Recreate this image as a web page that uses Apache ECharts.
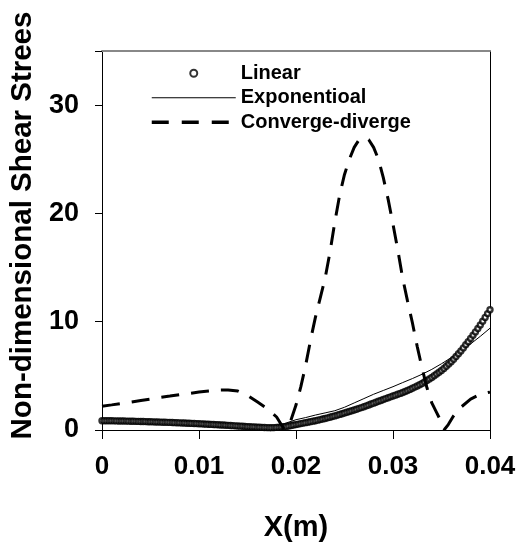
<!DOCTYPE html>
<html><head><meta charset="utf-8">
<script src="https://cdn.jsdelivr.net/npm/echarts@6/dist/echarts.min.js"></script>
<style>html,body{margin:0;padding:0;background:#fff}#c{width:519px;height:552px}</style>
</head><body><div id="c"></div><script>
// ---- data ----
const linearX = [
0,0.00025,0.0005,0.00075,0.001,0.00125,0.0015,0.00175,0.002,0.00225,0.0025,0.00275,
0.003,0.00325,0.0035,0.00375,0.004,0.00425,0.0045,0.00475,0.005,0.00525,0.0055,0.00575,
0.006,0.00625,0.0065,0.00675,0.007,0.00725,0.0075,0.00775,0.008,0.00825,0.0085,0.00875,
0.009,0.00925,0.0095,0.00975,0.01,0.01025,0.0105,0.01075,0.011,0.01125,0.0115,0.01175,
0.012,0.01225,0.0125,0.01275,0.013,0.01325,0.0135,0.01375,0.014,0.01425,0.0145,0.01475,
0.015,0.01525,0.0155,0.01575,0.016,0.01625,0.0165,0.01675,0.017,0.01725,0.0175,0.01775,
0.018,0.01825,0.0185,0.01875,0.019,0.01925,0.0195,0.01975,0.02,0.02025,0.0205,0.02075,
0.021,0.02125,0.0215,0.02175,0.022,0.02225,0.0225,0.02275,0.023,0.02325,0.0235,0.02375,
0.024,0.02425,0.0245,0.02475,0.025,0.02525,0.0255,0.02575,0.026,0.02625,0.0265,0.02675,
0.027,0.02725,0.0275,0.02775,0.028,0.02825,0.0285,0.02875,0.029,0.02925,0.0295,0.02975,
0.03,0.03025,0.0305,0.03075,0.031,0.03125,0.0315,0.03175,0.032,0.03225,0.0325,0.03275,
0.033,0.03325,0.0335,0.03375,0.034,0.03425,0.0345,0.03475,0.035,0.03525,0.0355,0.03575,
0.036,0.03625,0.0365,0.03675,0.037,0.03725,0.0375,0.03775,0.038,0.03825,0.0385,0.03875,
0.039,0.03925,0.0395,0.03975,0.04];
const linearY = [
0.86,0.86,0.855,0.85,0.85,0.845,0.84,0.835,0.83,0.825,0.82,0.815,
0.81,0.805,0.80,0.795,0.79,0.783,0.776,0.768,0.76,0.753,0.745,0.738,
0.73,0.722,0.715,0.708,0.70,0.69,0.68,0.67,0.66,0.65,0.64,0.63,
0.62,0.61,0.60,0.59,0.58,0.567,0.555,0.542,0.53,0.517,0.505,0.492,
0.48,0.467,0.455,0.442,0.43,0.415,0.40,0.385,0.37,0.355,0.34,0.325,
0.31,0.297,0.285,0.272,0.26,0.25,0.24,0.23,0.22,0.215,0.215,0.22,
0.24,0.26,0.28,0.30,0.33,0.37,0.41,0.455,0.50,0.545,0.59,0.635,
0.68,0.725,0.77,0.815,0.86,0.91,0.96,1.01,1.06,1.12,1.18,1.24,
1.30,1.37,1.44,1.50,1.57,1.64,1.71,1.78,1.85,1.92,2.00,2.07,
2.15,2.23,2.31,2.40,2.48,2.56,2.65,2.73,2.82,2.90,2.98,3.06,
3.14,3.22,3.30,3.38,3.46,3.55,3.65,3.75,3.85,3.96,4.07,4.18,
4.30,4.43,4.57,4.71,4.85,5.01,5.17,5.33,5.50,5.69,5.89,6.09,
6.30,6.54,6.79,7.04,7.30,7.58,7.87,8.16,8.45,8.75,9.06,9.38,
9.70,10.05,10.40,10.75,11.10];

const expX = [0,0.001,0.002,0.003,0.004,0.005,0.006,0.007,0.008,0.009,0.01,0.011,0.012,0.013,0.014,0.015,0.016,0.017,0.018,0.019,0.02,
0.021,0.022,0.023,0.024,0.025,0.026,0.027,0.028,0.029,0.03,0.031,0.032,0.033,0.034,0.035,0.036,0.037,0.038,0.039,0.04];
const expY = [0.85,0.83,0.80,0.78,0.75,0.72,0.69,0.66,0.62,0.59,0.55,0.51,0.46,0.41,0.36,0.30,0.24,0.18,0.32,0.65,0.95,
1.15,1.38,1.58,1.78,2.10,2.50,2.90,3.30,3.65,4.00,4.38,4.75,5.15,5.60,6.12,6.68,7.28,7.95,8.65,9.40];

const cdX = [0,0.001,0.002,0.003,0.004,0.005,0.006,0.007,0.008,0.009,0.01,0.011,0.012,0.013,0.014,0.015,0.016,0.017,0.018,0.0188,
0.0194,0.02,0.0205,0.021,0.0215,0.022,0.0225,0.023,0.0235,0.024,0.0245,0.025,0.0255,0.026,0.0265,0.027,0.0275,0.028,0.0285,
0.029,0.0295,0.03,0.0305,0.031,0.0315,0.032,0.0325,0.033,0.0335,0.034,0.0345,0.035,0.0353,0.0357,0.0362,0.037,0.038,0.039,0.04];
const cdY = [2.2,2.32,2.45,2.58,2.72,2.86,3.0,3.13,3.27,3.38,3.5,3.6,3.68,3.7,3.6,3.2,2.6,2.0,1.2,0.05,
0.7,2.3,4.0,6.0,8.3,10.4,12.2,14.0,16.4,19.2,21.7,23.6,25.0,26.1,26.8,27.0,26.8,26.1,25.0,
23.3,21.3,19.0,16.6,14.0,11.9,9.9,7.7,5.7,3.9,2.5,1.6,0.7,0.05,0.5,1.25,2.1,2.85,3.3,3.5];

const seriesNames = ['Linear','Exponentioal','Converge-diverge'];
const xTickLabels = ['0','0.01','0.02','0.03','0.04'];
const yTickLabels = ['0','10','20','30'];

const zip = (xs, ys) => xs.map((x, i) => [x, ys[i]]);
const SANS = '"Liberation Sans",Arial,sans-serif';
const HIDE = {color: 'rgba(0,0,0,0)', borderColor: 'rgba(0,0,0,0)', opacity: 0};

const chart = echarts.init(document.getElementById('c'), null, {renderer: 'canvas'});
chart.setOption({
  animation: false,
  backgroundColor: '#fff',
  grid: {left: 102, right: 29, top: 51, bottom: 122},
  legend: {
    orient: 'vertical', left: 145, top: 56, itemWidth: 84, itemHeight: 7, itemGap: 0,
    selectedMode: false,
    textStyle: {fontFamily: SANS, fontSize: 20, fontWeight: 'bold', color: '#000', lineHeight: 24.5},
    data: [
      {name: seriesNames[0], itemStyle: {color: '#fff', borderColor: '#000', borderWidth: 2}},
      {name: seriesNames[1], itemStyle: HIDE, lineStyle: {width: 1, color: '#000'}},
      {name: seriesNames[2], itemStyle: HIDE, lineStyle: {width: 3.5, color: '#000', type: [17, 13]}}
    ]
  },
  xAxis: [{
    type: 'value', min: 0, max: 0.04, interval: 0.01,
    axisLine: {onZero: false, lineStyle: {color: '#000', width: 1}},
    axisTick: {inside: false, length: 9, lineStyle: {color: '#000', width: 1}},
    axisLabel: {margin: 24, color: '#000', fontFamily: SANS, fontSize: 26, fontWeight: 'bold',
      formatter: v => xTickLabels[Math.round(v / 0.01)]},
    splitLine: {show: false},
    name: 'X(m)', nameLocation: 'middle', nameGap: 83,
    nameTextStyle: {color: '#000', fontFamily: SANS, fontSize: 29, fontWeight: 'bold'}
  }, {
    type: 'value', position: 'top', min: 0, max: 0.04,
    axisLine: {show: true, onZero: false, lineStyle: {color: '#888', width: 2}},
    axisTick: {show: false}, axisLabel: {show: false}, splitLine: {show: false}
  }],
  yAxis: [{
    type: 'value', min: 0, max: 35, interval: 10,
    axisLine: {show: true, onZero: false, lineStyle: {color: '#000', width: 1}},
    axisTick: {show: true, inside: false, length: 7, lineStyle: {color: '#000', width: 1}},
    axisLabel: {margin: 23, color: '#000', fontFamily: SANS, fontSize: 27, fontWeight: 'bold',
      formatter: v => yTickLabels[Math.round(v / 10)]},
    splitLine: {show: false},
    name: 'Non-dimensional Shear Strees', nameLocation: 'middle', nameRotate: 90, nameGap: 63,
    nameTextStyle: {color: '#000', fontFamily: SANS, fontSize: 29.5, fontWeight: 'bold', padding: [0, 0, 0, 30]}
  }, {
    type: 'value', position: 'right', min: 0, max: 35,
    axisLine: {show: true, onZero: false, lineStyle: {color: '#000', width: 1}},
    axisTick: {show: false}, axisLabel: {show: false}, splitLine: {show: false}
  }],
  series: [{
    name: seriesNames[0], type: 'scatter', data: zip(linearX, linearY), z: 3,
    symbol: 'circle', symbolSize: 5,
    itemStyle: {color: '#fff', borderColor: '#000', borderWidth: 2.4}
  }, {
    name: seriesNames[1], type: 'line', data: zip(expX, expY), z: 2,
    symbol: 'none', showSymbol: false,
    lineStyle: {color: '#000', width: 1}, itemStyle: {color: '#000'}
  }, {
    name: seriesNames[2], type: 'line', data: zip(cdX, cdY), z: 4,
    symbol: 'none', showSymbol: false,
    lineStyle: {color: '#000', width: 3, type: [18, 12]}, itemStyle: {color: '#000'}
  }]
});
</script></body></html>
